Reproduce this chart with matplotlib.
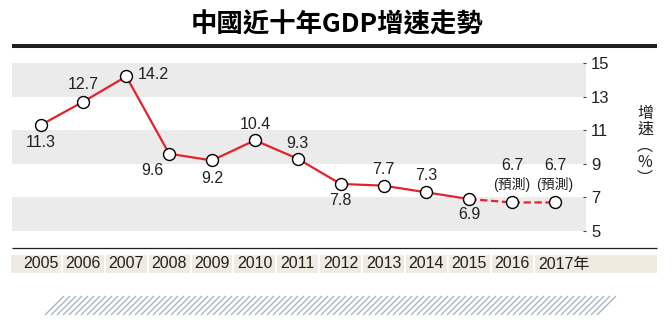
#!/usr/bin/env python3

import matplotlib.pyplot as plt
from matplotlib.patches import Rectangle
from matplotlib import transforms

plt.rcParams['font.family'] = ['Liberation Sans', 'Noto Sans CJK TC', 'DejaVu Sans']

years = [2005, 2006, 2007, 2008, 2009, 2010, 2011, 2012, 2013, 2014, 2015, 2016, 2017]
growth = [11.3, 12.7, 14.2, 9.6, 9.2, 10.4, 9.3, 7.8, 7.7, 7.3, 6.9, 6.7, 6.7]
n_actual = 11  # 2016, 2017 are forecasts
year_labels = [str(y) for y in years[:-1]] + ['2017年']
yticks = [5, 7, 9, 11, 13, 15]
bands = [(5, 7), (9, 11), (13, 15)]

title = '中國近十年GDP增速走勢'
ylabel = '增\n速\n︵\n%\n︶'
forecast_note = '(預測)'

# where each value label sits relative to its point (pixels)
label_offsets = [(0, -17), (0, 17), (11, 2), (-17, -17), (0, -18), (0, 16),
                 (0, 15), (0, -17), (0, 16), (0, 17), (0, -15), (0, 37), (0, 37)]

RED = '#e3222b'
DARK = '#231f20'
W, H = 672, 326

fig = plt.figure(figsize=(W / 100, H / 100), dpi=100)

# overlay in reference pixel coordinates (y down)
over = fig.add_axes([0, 0, 1, 1], zorder=0)
over.set_xlim(0, W)
over.set_ylim(H, 0)
over.axis('off')

#- main chart
left, right, top, bottom = 12, 585.5, 63, 231
ax = fig.add_axes([left / W, (H - bottom) / H, (right - left) / W, (bottom - top) / H], zorder=2)
ax.patch.set_alpha(0)
for lo, hi in bands:
    ax.axhspan(lo, hi, color='#ebebeb', lw=0, zorder=0)

ax.plot(years[:n_actual], growth[:n_actual], color=RED, lw=1.6, zorder=2)
ax.plot(years[n_actual - 1:], growth[n_actual - 1:], color=RED, lw=1.6,
        ls=(0, (3.3, 1.6)), zorder=2)
ax.plot(years, growth, ls='none', marker='o', ms=8.6, mfc='white', mec='black',
        mew=1.0, zorder=3, clip_on=False)

for i, (x, v) in enumerate(zip(years, growth)):
    dx, dy = label_offsets[i]
    ha = 'left' if dx > 0 else 'center'
    ax.annotate(f'{v:.1f}', (x, v), xytext=(dx, dy), textcoords='offset pixels',
                ha=ha, va='center', fontsize=11.5, color=DARK, annotation_clip=False)
    if i >= n_actual:
        ax.annotate(forecast_note, (x, v), xytext=(dx, 18), textcoords='offset pixels',
                    ha='center', va='center', fontsize=10, color=DARK,
                    annotation_clip=False)

ax.set_xlim(2004.335, 2017.711)
ax.set_ylim(5, 15)
ax.set_xticks([])
ax.yaxis.tick_right()
ax.set_yticks(yticks)
ax.tick_params(axis='y', direction='in', length=2.5, width=0.8, color='#444444',
               pad=4, labelsize=12, labelcolor=DARK)
for s in ax.spines.values():
    s.set_visible(False)

#- title and rules
over.text(337, 25, title, ha='center', va='center', fontsize=19,
          fontweight='bold', family=['Noto Sans CJK TC'], color='black')
over.plot([12, 657], [45.5, 45.5], color=DARK, lw=2.9, solid_capstyle='butt')
over.plot([12, 657], [248, 248], color=DARK, lw=0.9, solid_capstyle='butt')

over.text(645, 146, ylabel, ha='center', va='center', fontsize=11.5,
          family=['Noto Sans CJK TC'], color=DARK, linespacing=0.95)

#- year strip: x in data years, y in reference pixels
strip = transforms.blended_transform_factory(ax.transData, over.transData)
gap = 1.0 / 42.875
for i, yr in enumerate(years):
    x0 = yr - 0.5 + gap if i > 0 else 2004.312
    x1 = yr + 0.5 - gap if i < len(years) - 1 else 2019.38
    over.add_patch(Rectangle((x0, 255), x1 - x0, 18, transform=strip,
                             facecolor='#efebe0', edgecolor='none', clip_on=False))
    if i < len(years) - 1:
        over.text(yr, 264, year_labels[i], transform=strip, ha='center', va='center',
                  fontsize=11.5, color=DARK)
    else:
        over.annotate(year_labels[i], (yr, 264), xycoords=strip, xytext=(-17, 0),
                      textcoords='offset pixels', ha='left', va='center',
                      fontsize=11.5, color=DARK)

#- decorative hatch band
for x in range(45, 602, 6):
    over.plot([x, x + 19], [315, 296], color='#a3b0bd', lw=0.9, solid_capstyle='butt')

fig.savefig('out.png', dpi=100)
